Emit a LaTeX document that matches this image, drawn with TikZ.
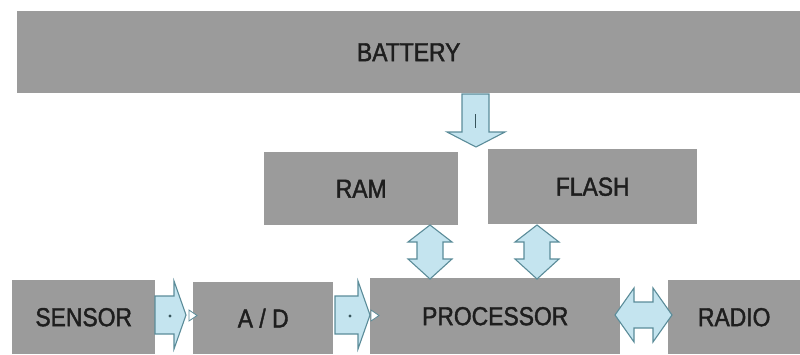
\documentclass[tikz,border=0pt]{standalone}
\usepackage{fontspec}
\setmainfont[FakeStretch=0.88,FakeBold=1.6]{Liberation Sans}
\definecolor{boxgray}{HTML}{9B9B9B}
\definecolor{arrfill}{HTML}{C4E4EF}
\definecolor{arrline}{HTML}{5B8C99}
\definecolor{txt}{HTML}{1E1E1E}
\begin{document}
\begin{tikzpicture}[x=1pt,y=-1pt,
  block/.style={fill=boxgray,draw=none,anchor=north west,inner sep=0pt,
    text=txt,font=\fontsize{26}{30}\selectfont},
  barrow/.style={fill=arrfill,draw=arrline,line width=1.1pt,line join=miter},
  tipmark/.style={fill=white,draw=arrline,line width=0.8pt},
  dotmark/.style={fill=arrline!60!black}]
\useasboundingbox (0,0) rectangle (800,354);
% boxes
\node[block,minimum width=783pt,minimum height=82pt] (battery) at (17,11) {BATTERY};
\node[block,minimum width=194pt,minimum height=73pt] (ram) at (264,152) {RAM};
\node[block,minimum width=209pt,minimum height=75pt] (flash) at (488,149) {FLASH};
\node[block,minimum width=143pt,minimum height=74pt] (sensor) at (12,280) {SENSOR};
\node[block,minimum width=140pt,minimum height=72pt] (ad) at (193,282) {A / D};
\node[block,minimum width=250pt,minimum height=76pt] (proc) at (370,278) {PROCESSOR};
\node[block,minimum width=132pt,minimum height=74pt] (radio) at (668,280) {RADIO};
% battery -> memory arrow
\draw[barrow] (462,94) -- (489,94) -- (489,132) -- (505,132) -- (476,147)
  -- (447,132) -- (462,132) -- cycle;
\draw[arrline!60!black,line width=1pt] (475,114) -- (475,128);
% vertical double arrows
\foreach \cx in {430,537}{
  \draw[barrow] (\cx,225) -- (\cx+22,242) -- (\cx+13,242) -- (\cx+13,259)
    -- (\cx+22,259) -- (\cx,279) -- (\cx-22,259) -- (\cx-13,259)
    -- (\cx-13,242) -- (\cx-22,242) -- cycle;
}
% right arrows
\draw[barrow] (155,296) -- (174,296) -- (174,281) -- (186,315) -- (174,349)
  -- (174,334) -- (155,334) -- cycle;
\fill[dotmark] (170,316) circle (1.6);
\draw[tipmark] (189,310) -- (197,315.5) -- (189,321) -- cycle;
\draw[barrow] (335,296) -- (358,296) -- (358,281) -- (370,315) -- (358,349)
  -- (358,334) -- (335,334) -- cycle;
\fill[dotmark] (350,316) circle (1.6);
\draw[tipmark] (371,310) -- (379,315.5) -- (371,321) -- cycle;
% processor <-> radio
\draw[barrow] (615,315) -- (634,288) -- (634,302) -- (653,302) -- (653,288)
  -- (672,315) -- (653,342) -- (653,328) -- (634,328) -- (634,342) -- cycle;
\end{tikzpicture}
\end{document}
